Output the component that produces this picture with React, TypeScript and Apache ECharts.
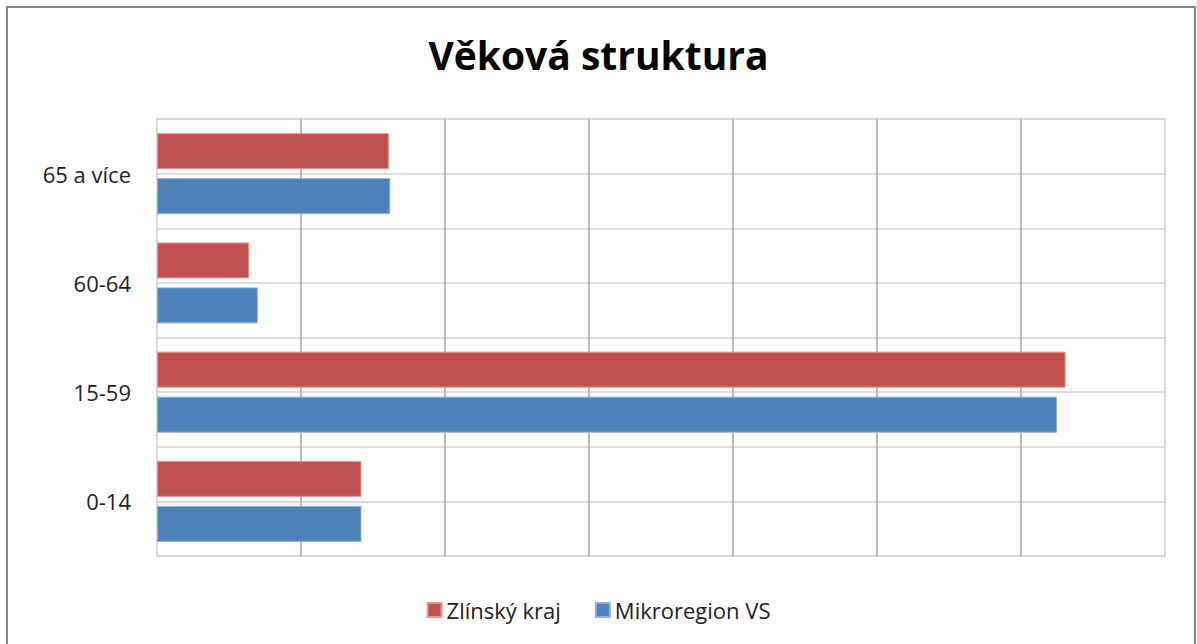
import React, { useEffect, useRef } from "react";
import * as echarts from "echarts";

const categories = ["0-14", "15-59", "60-64", "65 a více"];
const zlinskyKraj = [14.2, 63.1, 6.4, 16.1];
const mikroregionVS = [14.2, 62.5, 7.0, 16.2];
const titleText = "Věková struktura";
const legendNames = ["Zlínský kraj", "Mikroregion VS"];

const FONT = "'Open Sans', sans-serif";

export default function App() {
  const ref = useRef<HTMLDivElement>(null);
  useEffect(() => {
    document.body.style.margin = "0";
    const chart = echarts.init(ref.current!, null, { renderer: "svg" });
    chart.setOption({
      animation: false,
      backgroundColor: "#ffffff",
      title: {
        text: titleText,
        left: "center",
        top: 30,
        textStyle: { fontFamily: FONT, fontWeight: "bold", fontSize: 39, color: "#000" },
      },
      legend: {
        data: legendNames,
        bottom: 18,
        left: "center",
        icon: "rect",
        itemWidth: 14,
        itemHeight: 14,
        itemGap: 34,
        textStyle: { fontFamily: FONT, fontSize: 22, color: "#222" },
      },
      grid: {
        left: 157,
        top: 119,
        width: 1008,
        height: 437,
        show: true,
        borderColor: "#cccccc",
        borderWidth: 1.5,
      },
      xAxis: {
        type: "value",
        min: 0,
        max: 70,
        interval: 10,
        axisLabel: { show: false },
        axisLine: { show: false },
        axisTick: { show: false },
        splitLine: { show: true, showMinLine: false, showMaxLine: false, lineStyle: { color: "#a6a6a6", width: 1.5 } },
      },
      yAxis: [
        {
          type: "category",
          data: categories,
          axisLine: { show: false },
          axisTick: { show: false },
          splitLine: { show: false },
          axisLabel: { fontFamily: FONT, fontSize: 22, color: "#222", margin: 26 },
        },
        {
          type: "value",
          min: 0,
          max: 8,
          interval: 1,
          position: "left",
          axisLabel: { show: false },
          axisLine: { show: false },
          axisTick: { show: false },
          splitLine: { show: true, showMinLine: false, showMaxLine: false, lineStyle: { color: "#d0d0d0", width: 1.5 } },
        },
      ],
      series: [
        {
          name: legendNames[0],
          type: "bar",
          yAxisIndex: 0,
          data: zlinskyKraj,
          barWidth: 36,
          barGap: "25%",
          itemStyle: { color: "#C0504D", borderColor: "#e09a98", borderWidth: 1 },
        },
        {
          name: legendNames[1],
          type: "bar",
          yAxisIndex: 0,
          data: mikroregionVS,
          barWidth: 36,
          barGap: "25%",
          itemStyle: { color: "#4F81BD", borderColor: "#8fb0dc", borderWidth: 1 },
        },
      ],
      graphic: [
        {
          type: "rect",
          shape: { x: 7, y: 7, width: 1188, height: 660 },
          style: { fill: "none", stroke: "#878787", lineWidth: 2 },
          silent: true,
        },
      ],
    });
    return () => chart.dispose();
  }, []);
  return <div ref={ref} style={{ position: "fixed", left: 0, top: 0, width: 1197, height: 644 }} />;
}
